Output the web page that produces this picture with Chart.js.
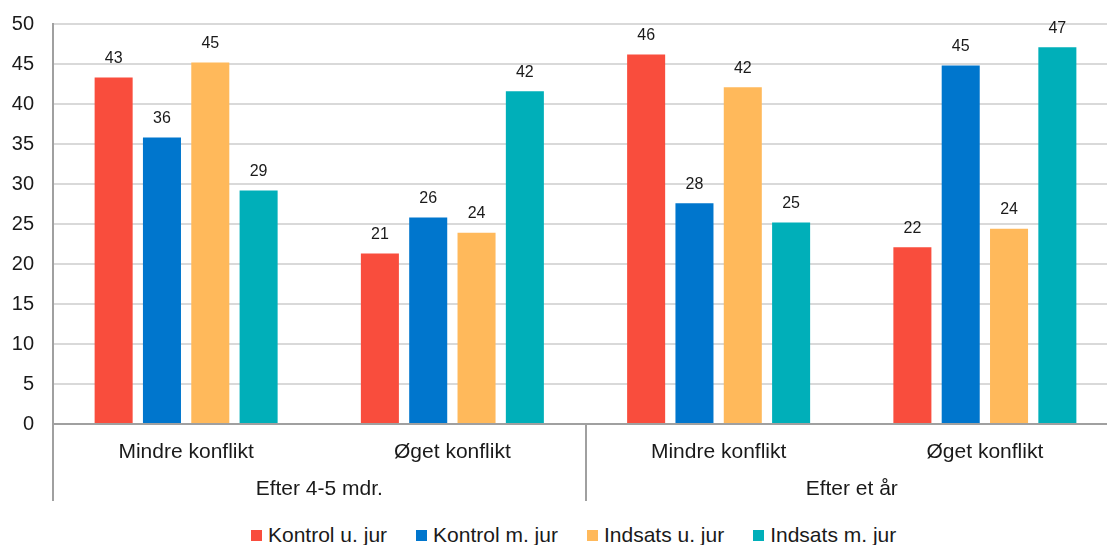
<!DOCTYPE html>
<html>
<head>
<meta charset="utf-8">
<script src="https://cdn.jsdelivr.net/npm/chart.js@4"></script>
<style>
    body { margin: 0; background: #fff; overflow: hidden; font-family: "Liberation Sans", Arial, sans-serif; }
    #wrap { position: relative; width: 1118px; height: 512px; }
    #legend { position: absolute; left: 251px; top: 524px; display: flex; white-space: nowrap; }
    .lg-item { display: flex; align-items: center; height: 22px; margin-right: 29px; font-size: 21px; color: #1a1a1a; }
    .lg-box { width: 11px; height: 11px; margin-right: 6px; }
</style>
</head>
<body>
<div id="wrap"><canvas id="barChart"></canvas></div>
<div id="legend"></div>
<script>
const categories = ['Mindre konflikt', 'Øget konflikt', 'Mindre konflikt', 'Øget konflikt'];
const periods = ['Efter 4-5 mdr.', 'Efter et år'];
const seriesNames = ['Kontrol u. jur', 'Kontrol m. jur', 'Indsats u. jur', 'Indsats m. jur'];
const kontrolUJur = [43.3, 21.3, 46.2, 22.1];
const kontrolMJur = [35.8, 25.8, 27.6, 44.8];
const indsatsUJur = [45.2, 23.9, 42.1, 24.4];
const indsatsMJur = [29.2, 41.6, 25.2, 47.1];
const yMin = 0, yMax = 50, yStep = 5;

const seriesColors = ['#f94d3d', '#0076cd', '#ffb95b', '#00afb9'];
const seriesValues = [kontrolUJur, kontrolMJur, indsatsUJur, indsatsMJur];

Chart.defaults.font.family = '"Liberation Sans", Arial, sans-serif';
Chart.defaults.color = '#1a1a1a';

//..value labels above bars
const valueLabels = {
    id: 'valueLabels',
    afterDatasetsDraw(chart) {
        const ctx = chart.ctx;
        ctx.save();
        ctx.font = '16px "Liberation Sans", Arial, sans-serif';
        ctx.fillStyle = '#1a1a1a';
        ctx.textAlign = 'center';
        ctx.textBaseline = 'middle';
        chart.data.datasets.forEach((ds, i) => {
            chart.getDatasetMeta(i).data.forEach((bar, j) => {
                ctx.fillText(Math.round(ds.data[j]), bar.x, bar.y - 19);
            });
        });
        ctx.restore();
    }
};

//..group separators under the axis
const groupLines = {
    id: 'groupLines',
    afterDraw(chart) {
        const x = chart.scales.x;
        const ctx = chart.ctx;
        const mid = (x.getPixelForValue(1) + x.getPixelForValue(2)) / 2;
        ctx.save();
        ctx.strokeStyle = '#a0a0a0';
        ctx.lineWidth = 2;
        [x.left, mid, x.right].forEach(px => {
            const p = Math.round(px);
            ctx.beginPath();
            ctx.moveTo(p, x.top);
            ctx.lineTo(p, 501);
            ctx.stroke();
        });
        ctx.restore();
    }
};

new Chart(document.getElementById('barChart'), {
    type: 'bar',
    data: {
        labels: categories,
        datasets: seriesValues.map((vals, i) => ({
            label: seriesNames[i],
            data: vals,
            backgroundColor: seriesColors[i],
            categoryPercentage: 0.726,
            barPercentage: 0.787
        }))
    },
    options: {
        responsive: true,
        maintainAspectRatio: false,
        animation: false,
        layout: { padding: { top: 24, left: 0, right: 0, bottom: 0 } },
        plugins: {
            legend: { display: false },
            tooltip: { enabled: false }
        },
        scales: {
            y: {
                min: yMin,
                max: yMax,
                ticks: { stepSize: yStep, padding: 19, font: { size: 20 }, color: '#1a1a1a' },
                grid: {
                    drawTicks: false,
                    lineWidth: 2,
                    color: ctx => ctx.tick && ctx.tick.value === 0 ? 'rgba(0,0,0,0)' : '#d9d9d9'
                },
                border: { display: true, color: '#a0a0a0', width: 2 },
                afterFit(scale) {
                    scale.width = 53;
                    scale.paddingTop = 0;
                    scale.paddingBottom = 0;
                }
            },
            x: {
                weight: 0,
                grid: { display: false, drawTicks: false },
                border: { display: true, color: '#a0a0a0', width: 2 },
                ticks: { padding: 16, font: { size: 21 }, color: '#1a1a1a', maxRotation: 0, autoSkip: false },
                afterFit(scale) { scale.height = 44; }
            },
            period: {
                type: 'category',
                position: 'bottom',
                weight: 1,
                labels: periods,
                offset: true,
                grid: { display: false, drawTicks: false },
                border: { display: false },
                ticks: { padding: 9, font: { size: 21 }, color: '#1a1a1a', maxRotation: 0, autoSkip: false },
                afterFit(scale) { scale.height = 44; }
            }
        }
    },
    plugins: [valueLabels, groupLines]
});

//..html legend
const legend = document.getElementById('legend');
seriesNames.forEach((name, i) => {
    const item = document.createElement('div');
    item.className = 'lg-item';
    item.innerHTML = `<span class="lg-box" style="background:${seriesColors[i]}"></span><span>${name}</span>`;
    legend.appendChild(item);
});
</script>
</body>
</html>
